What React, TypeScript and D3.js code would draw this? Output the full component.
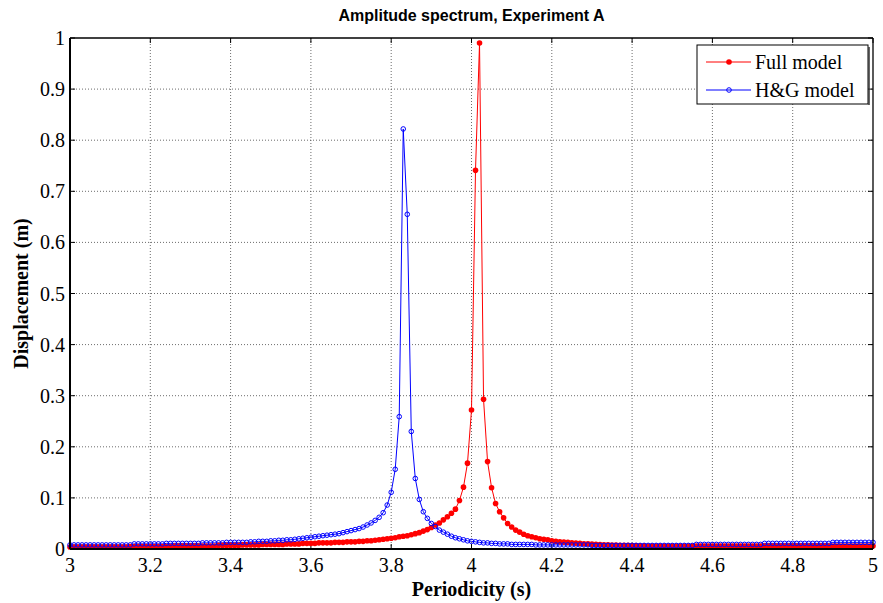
import React from "react";
import * as d3 from "d3";

const periodicity = [
  3.00, 3.01, 3.02, 3.03, 3.04, 3.05, 3.06, 3.07, 3.08, 3.09,
  3.10, 3.11, 3.12, 3.13, 3.14, 3.15, 3.16, 3.17, 3.18, 3.19,
  3.20, 3.21, 3.22, 3.23, 3.24, 3.25, 3.26, 3.27, 3.28, 3.29,
  3.30, 3.31, 3.32, 3.33, 3.34, 3.35, 3.36, 3.37, 3.38, 3.39,
  3.40, 3.41, 3.42, 3.43, 3.44, 3.45, 3.46, 3.47, 3.48, 3.49,
  3.50, 3.51, 3.52, 3.53, 3.54, 3.55, 3.56, 3.57, 3.58, 3.59,
  3.60, 3.61, 3.62, 3.63, 3.64, 3.65, 3.66, 3.67, 3.68, 3.69,
  3.70, 3.71, 3.72, 3.73, 3.74, 3.75, 3.76, 3.77, 3.78, 3.79,
  3.80, 3.81, 3.82, 3.83, 3.84, 3.85, 3.86, 3.87, 3.88, 3.89,
  3.90, 3.91, 3.92, 3.93, 3.94, 3.95, 3.96, 3.97, 3.98, 3.99,
  4.00, 4.01, 4.02, 4.03, 4.04, 4.05, 4.06, 4.07, 4.08, 4.09,
  4.10, 4.11, 4.12, 4.13, 4.14, 4.15, 4.16, 4.17, 4.18, 4.19,
  4.20, 4.21, 4.22, 4.23, 4.24, 4.25, 4.26, 4.27, 4.28, 4.29,
  4.30, 4.31, 4.32, 4.33, 4.34, 4.35, 4.36, 4.37, 4.38, 4.39,
  4.40, 4.41, 4.42, 4.43, 4.44, 4.45, 4.46, 4.47, 4.48, 4.49,
  4.50, 4.51, 4.52, 4.53, 4.54, 4.55, 4.56, 4.57, 4.58, 4.59,
  4.60, 4.61, 4.62, 4.63, 4.64, 4.65, 4.66, 4.67, 4.68, 4.69,
  4.70, 4.71, 4.72, 4.73, 4.74, 4.75, 4.76, 4.77, 4.78, 4.79,
  4.80, 4.81, 4.82, 4.83, 4.84, 4.85, 4.86, 4.87, 4.88, 4.89,
  4.90, 4.91, 4.92, 4.93, 4.94, 4.95, 4.96, 4.97, 4.98, 4.99,
  5.00,
];

const fullModel = [
  0.004, 0.004, 0.004, 0.004, 0.004, 0.004, 0.004, 0.004, 0.004, 0.004,
  0.004, 0.004, 0.004, 0.004, 0.004, 0.005, 0.005, 0.005, 0.005, 0.005,
  0.005, 0.005, 0.005, 0.005, 0.005, 0.005, 0.006, 0.006, 0.006, 0.006,
  0.006, 0.006, 0.006, 0.006, 0.006, 0.006, 0.006, 0.007, 0.007, 0.007,
  0.007, 0.007, 0.007, 0.008, 0.008, 0.008, 0.008, 0.008, 0.009, 0.009,
  0.009, 0.009, 0.009, 0.009, 0.010, 0.010, 0.010, 0.010, 0.011, 0.011,
  0.011, 0.011, 0.012, 0.012, 0.012, 0.012, 0.013, 0.013, 0.013, 0.014,
  0.014, 0.014, 0.015, 0.015, 0.016, 0.016, 0.017, 0.018, 0.019, 0.020,
  0.021, 0.022, 0.024, 0.025, 0.026, 0.028, 0.030, 0.032, 0.035, 0.038,
  0.042, 0.047, 0.051, 0.057, 0.063, 0.070, 0.078, 0.095, 0.121, 0.168,
  0.272, 0.741, 0.990, 0.293, 0.171, 0.120, 0.089, 0.073, 0.061, 0.050,
  0.043, 0.037, 0.033, 0.029, 0.026, 0.024, 0.022, 0.020, 0.019, 0.018,
  0.016, 0.015, 0.014, 0.0135, 0.013, 0.012, 0.0115, 0.011, 0.0104, 0.010,
  0.0095, 0.009, 0.0085, 0.008, 0.008, 0.0078, 0.0075, 0.0072, 0.007, 0.007,
  0.0068, 0.0066, 0.0064, 0.0062, 0.006, 0.006, 0.006, 0.006, 0.006, 0.006,
  0.006, 0.006, 0.006, 0.006, 0.006, 0.006, 0.006, 0.006, 0.006, 0.006,
  0.006, 0.006, 0.006, 0.006, 0.006, 0.006, 0.006, 0.006, 0.006, 0.006,
  0.006, 0.006, 0.006, 0.006, 0.006, 0.006, 0.006, 0.006, 0.006, 0.006,
  0.006, 0.006, 0.006, 0.006, 0.006, 0.006, 0.006, 0.006, 0.006, 0.006,
  0.006, 0.006, 0.006, 0.006, 0.006, 0.006, 0.006, 0.006, 0.006, 0.006,
  0.006,
];

const hgModel = [
  0.008, 0.008, 0.008, 0.008, 0.008, 0.008, 0.008, 0.008, 0.008, 0.008,
  0.008, 0.008, 0.008, 0.008, 0.008, 0.008, 0.010, 0.010, 0.010, 0.010,
  0.010, 0.010, 0.010, 0.010, 0.011, 0.011, 0.011, 0.011, 0.011, 0.011,
  0.011, 0.011, 0.011, 0.012, 0.012, 0.012, 0.012, 0.012, 0.012, 0.013,
  0.013, 0.013, 0.013, 0.013, 0.013, 0.014, 0.014, 0.015, 0.015, 0.015,
  0.016, 0.016, 0.017, 0.017, 0.018, 0.018, 0.019, 0.020, 0.021, 0.022,
  0.023, 0.024, 0.025, 0.026, 0.027, 0.028, 0.029, 0.030, 0.032, 0.034,
  0.036, 0.038, 0.040, 0.043, 0.047, 0.051, 0.056, 0.062, 0.071, 0.086,
  0.111, 0.156, 0.259, 0.822, 0.655, 0.230, 0.138, 0.097, 0.073, 0.060,
  0.050, 0.044, 0.037, 0.033, 0.029, 0.025, 0.022, 0.020, 0.018, 0.016,
  0.015, 0.014, 0.013, 0.012, 0.012, 0.011, 0.011, 0.010, 0.010, 0.010,
  0.009, 0.009, 0.009, 0.009, 0.009, 0.009, 0.008, 0.008, 0.008, 0.008,
  0.008, 0.008, 0.008, 0.008, 0.008, 0.008, 0.008, 0.008, 0.008, 0.008,
  0.007, 0.007, 0.007, 0.007, 0.007, 0.007, 0.007, 0.007, 0.007, 0.007,
  0.007, 0.007, 0.007, 0.007, 0.007, 0.007, 0.007, 0.007, 0.007, 0.007,
  0.007, 0.007, 0.007, 0.007, 0.007, 0.007, 0.009, 0.009, 0.009, 0.009,
  0.009, 0.009, 0.009, 0.009, 0.009, 0.009, 0.009, 0.009, 0.009, 0.009,
  0.009, 0.009, 0.009, 0.011, 0.011, 0.011, 0.011, 0.011, 0.011, 0.011,
  0.011, 0.011, 0.011, 0.011, 0.011, 0.011, 0.011, 0.011, 0.011, 0.011,
  0.013, 0.013, 0.013, 0.013, 0.013, 0.013, 0.013, 0.013, 0.013, 0.013,
  0.013,
];

const xTicks = [3, 3.2, 3.4, 3.6, 3.8, 4, 4.2, 4.4, 4.6, 4.8, 5];
const yTicks = [0, 0.1, 0.2, 0.3, 0.4, 0.5, 0.6, 0.7, 0.8, 0.9, 1];
const seriesNames = ["Full model", "H&G model"];
const titleText = "Amplitude spectrum, Experiment A";
const xLabel = "Periodicity (s)";
const yLabel = "Displacement (m)";

const W = 883;
const H = 603;
const M = { left: 70, right: 10, top: 38, bottom: 54 };

export default function App() {
  const x = d3.scaleLinear().domain([3, 5]).range([M.left, W - M.right]);
  const y = d3.scaleLinear().domain([0, 1]).range([H - M.bottom, M.top]);
  const line = d3
    .line<[number, number]>()
    .x((d) => x(d[0]))
    .y((d) => y(d[1]));
  const redPts: [number, number][] = periodicity.map((p, i) => [p, fullModel[i]]);
  const bluePts: [number, number][] = periodicity.map((p, i) => [p, hgModel[i]]);
  const serif = "'Liberation Serif', 'Times New Roman', serif";
  const sans = "'Liberation Sans', Arial, sans-serif";
  const x0 = x(3), x1 = x(5), y0 = y(0), y1 = y(1);
  const cx = (x0 + x1) / 2;

  const lgX = 697, lgY = 45, lgW = 171, lgH = 59;

  return (
    <svg
      width={W}
      height={H}
      style={{ position: "absolute", left: 0, top: 0, display: "block", background: "#fff" }}
    >
      <rect x={0} y={0} width={W} height={H} fill="#fff" />
      {/* grid */}
      <g stroke="#333" strokeWidth={0.8} strokeDasharray="1,2" opacity={0.9}>
        {xTicks.slice(1, -1).map((t) => (
          <line key={"gx" + t} x1={x(t)} x2={x(t)} y1={y0} y2={y1} />
        ))}
        {yTicks.slice(1, -1).map((t) => (
          <line key={"gy" + t} x1={x0} x2={x1} y1={y(t)} y2={y(t)} />
        ))}
      </g>
      {/* ticks */}
      <g stroke="#000" strokeWidth={1}>
        {xTicks.map((t) => (
          <g key={"tx" + t}>
            <line x1={x(t)} x2={x(t)} y1={y0} y2={y0 - 5} />
            <line x1={x(t)} x2={x(t)} y1={y1} y2={y1 + 5} />
          </g>
        ))}
        {yTicks.map((t) => (
          <g key={"ty" + t}>
            <line x1={x0} x2={x0 + 5} y1={y(t)} y2={y(t)} />
            <line x1={x1} x2={x1 - 5} y1={y(t)} y2={y(t)} />
          </g>
        ))}
      </g>
      {/* series lines */}
      <path d={line(redPts) || ""} fill="none" stroke="#ff0000" strokeWidth={1} />
      <path d={line(bluePts) || ""} fill="none" stroke="#0000ff" strokeWidth={1} />
      {/* markers */}
      <g fill="#ff0000">
        {redPts.map((d, i) => (
          <circle key={"r" + i} cx={x(d[0])} cy={y(d[1])} r={2.8} />
        ))}
      </g>
      <g fill="none" stroke="#0000ff" strokeWidth={1}>
        {bluePts.map((d, i) => (
          <circle key={"b" + i} cx={x(d[0])} cy={y(d[1])} r={2.3} />
        ))}
      </g>
      {/* axes box */}
      <line x1={x0} x2={x1} y1={y1} y2={y1} stroke="#000" strokeWidth={1.3} />
      <line x1={x1} x2={x1} y1={y1} y2={y0} stroke="#000" strokeWidth={1.3} />
      <line x1={x0} x2={x1} y1={y0} y2={y0} stroke="#000" strokeWidth={2} />
      <line x1={x0} x2={x0} y1={y1} y2={y0} stroke="#000" strokeWidth={2} />
      {/* tick labels */}
      <g fontFamily={serif} fontSize={20} fill="#000">
        {xTicks.map((t) => (
          <text key={"lx" + t} x={x(t)} y={572} textAnchor="middle">
            {d3.format("~g")(t)}
          </text>
        ))}
        {yTicks.map((t) => (
          <text key={"ly" + t} x={x0 - 5} y={y(t)} dy="0.35em" textAnchor="end">
            {d3.format("~g")(t)}
          </text>
        ))}
      </g>
      {/* title and labels */}
      <text x={cx} y={21} textAnchor="middle" fontFamily={sans} fontWeight="bold" fontSize={16}>
        {titleText}
      </text>
      <text x={cx} y={596} textAnchor="middle" fontFamily={serif} fontWeight="bold" fontSize={20}>
        {xLabel}
      </text>
      <text
        transform={`translate(28, ${(y0 + y1) / 2}) rotate(-90)`}
        textAnchor="middle"
        fontFamily={serif}
        fontWeight="bold"
        fontSize={20}
      >
        {yLabel}
      </text>
      {/* legend */}
      <g>
        <rect x={lgX} y={lgY} width={lgW} height={lgH} fill="#fff" stroke="#000" strokeWidth={1} />
        <line x1={lgX + lgW + 1} x2={lgX + lgW + 1} y1={lgY + 2} y2={lgY + lgH + 1} stroke="#333" strokeWidth={1.5} />
        <line x1={lgX + 9} x2={lgX + 54} y1={62} y2={62} stroke="#ff0000" strokeWidth={1} />
        <circle cx={lgX + 32} cy={62} r={2.8} fill="#ff0000" />
        <text x={lgX + 58} y={62} dy="0.35em" fontFamily={serif} fontSize={20}>
          {seriesNames[0]}
        </text>
        <line x1={lgX + 9} x2={lgX + 54} y1={90} y2={90} stroke="#0000ff" strokeWidth={1} />
        <circle cx={lgX + 32} cy={90} r={2.3} fill="none" stroke="#0000ff" strokeWidth={1} />
        <text x={lgX + 58} y={90} dy="0.35em" fontFamily={serif} fontSize={20}>
          {seriesNames[1]}
        </text>
      </g>
    </svg>
  );
}
